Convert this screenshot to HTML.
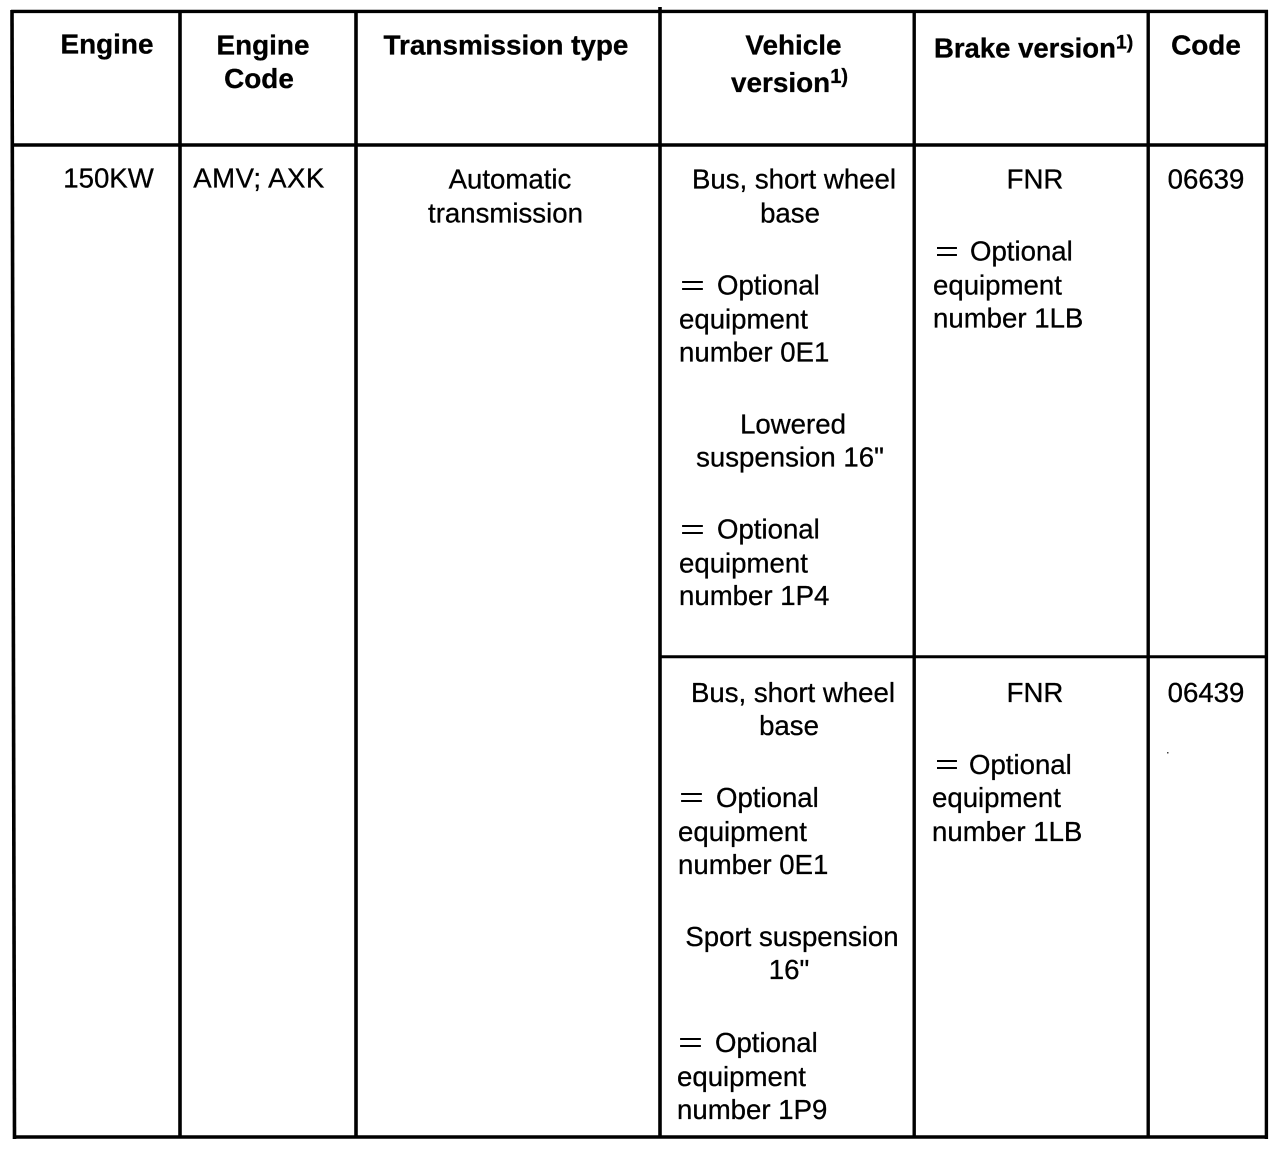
<!DOCTYPE html>
<html>
<head>
<meta charset="utf-8">
<style>
html,body{margin:0;padding:0;background:#fff}
svg{display:block}
text{font-family:"Liberation Sans",sans-serif;font-size:27.6px;fill:#000;stroke:#000;stroke-width:.3px}
.b{font-weight:bold;font-size:27.9px}
.m{text-anchor:middle}
.e{stroke-width:0}
</style>
</head>
<body>
<svg width="1280" height="1150" viewBox="0 0 1280 1150" xmlns="http://www.w3.org/2000/svg">
<g stroke="#000" fill="none">
<line x1="11" y1="11.4" x2="1268" y2="11.4" stroke-width="3.4"/>
<line x1="11" y1="145" x2="1268" y2="145" stroke-width="3.4"/>
<line x1="13" y1="1137" x2="1268" y2="1137" stroke-width="3.6"/>
<line x1="660" y1="656.7" x2="1267" y2="656.7" stroke-width="3"/>
<line x1="12" y1="10" x2="14.5" y2="1139" stroke-width="3.6"/>
<line x1="180" y1="10" x2="180" y2="1138" stroke-width="3.6"/>
<line x1="356" y1="10" x2="356" y2="1138" stroke-width="3.6"/>
<line x1="660" y1="7" x2="660" y2="1138" stroke-width="3.6"/>
<line x1="914.2" y1="10" x2="914.2" y2="1138" stroke-width="3.4"/>
<line x1="1148.2" y1="10" x2="1148.2" y2="1138" stroke-width="3.4"/>
<line x1="1266.4" y1="10" x2="1266.4" y2="1139" stroke-width="3.4"/>
</g>
<rect x="1167" y="752" width="1.5" height="1.5" fill="#444"/>
<g transform="translate(0,-.4)">
<text class="b m" x="107" y="54">Engine</text>
<text class="b m" x="263" y="55">Engine</text>
<text class="b m" x="259" y="88.5">Code</text>
<text class="b m" x="506" y="55">Transmission type</text>
<text class="b m" x="793.5" y="55">Vehicle</text>
<text class="b" x="731" y="92.5">version<tspan font-size="20" dy="-9">1)</tspan></text>
<text class="b" x="934" y="58" style="font-size:27.5px">Brake version<tspan font-size="19.5" dy="-9">1)</tspan></text>
<text class="b m" x="1206" y="55">Code</text>

<text class="m" x="108.5" y="188">150KW</text>
<text class="m" x="259" y="188" style="letter-spacing:.45px">AMV; AXK</text>
<text class="m" x="510" y="189">Automatic</text>
<text class="m" x="505.5" y="223">transmission</text>

<text class="m" x="794" y="189">Bus, short wheel</text>
<text class="m" x="790" y="223">base</text>
<text class="e" x="680" y="295" textLength="25" lengthAdjust="spacingAndGlyphs">=</text>
<text x="717" y="295">Optional</text>
<text x="679" y="329">equipment</text>
<text x="679" y="362">number 0E1</text>
<text class="m" x="793" y="434">Lowered</text>
<text class="m" x="790" y="467">suspension 16"</text>
<text class="e" x="680" y="539" textLength="25" lengthAdjust="spacingAndGlyphs">=</text>
<text x="717" y="539">Optional</text>
<text x="679" y="573">equipment</text>
<text x="679" y="605.5">number 1P4</text>

<text class="m" x="1035" y="189">FNR</text>
<text class="e" x="935" y="261" textLength="24" lengthAdjust="spacingAndGlyphs">=</text>
<text x="970" y="261">Optional</text>
<text x="933" y="295">equipment</text>
<text x="933" y="328">number 1LB</text>
<text class="m" x="1206" y="189">06639</text>

<text class="m" x="793" y="702.5">Bus, short wheel</text>
<text class="m" x="789" y="735.5">base</text>
<text class="e" x="679" y="807" textLength="25" lengthAdjust="spacingAndGlyphs">=</text>
<text x="716" y="807.5">Optional</text>
<text x="678" y="841.5">equipment</text>
<text x="678" y="874.5">number 0E1</text>
<text class="m" x="792" y="946.5">Sport suspension</text>
<text class="m" x="789" y="979.5">16"</text>
<text class="e" x="678" y="1052" textLength="25" lengthAdjust="spacingAndGlyphs">=</text>
<text x="715" y="1052.5">Optional</text>
<text x="677" y="1086.5">equipment</text>
<text x="677" y="1119.5">number 1P9</text>

<text class="m" x="1035" y="702.5">FNR</text>
<text class="e" x="935" y="774" textLength="24" lengthAdjust="spacingAndGlyphs">=</text>
<text x="969" y="774.5">Optional</text>
<text x="932" y="807.5">equipment</text>
<text x="932" y="841.5">number 1LB</text>
<text class="m" x="1206" y="702.5">06439</text>
</g>
</svg>
</body>
</html>
